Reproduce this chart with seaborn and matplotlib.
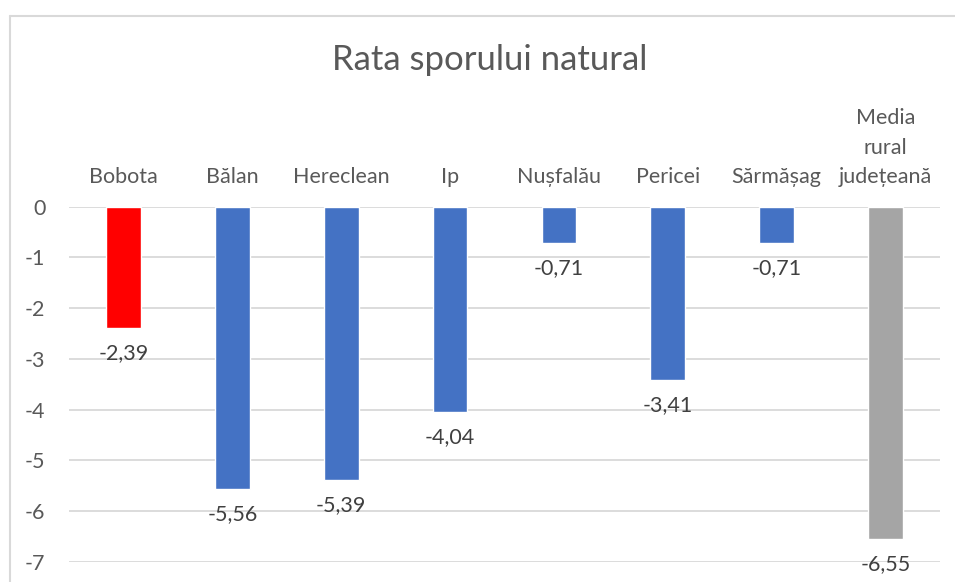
import matplotlib
matplotlib.use("Agg")
import matplotlib.pyplot as plt
import pandas as pd
import seaborn as sns

categories = ["Bobota", "Bălan", "Hereclean", "Ip", "Nușfalău", "Pericei", "Sărmășag",
              "Media\nrural\njudețeană"]
values = [-2.39, -5.56, -5.39, -4.04, -0.71, -3.41, -0.71, -6.55]
bar_colors = ["#FF0000", "#4472C4", "#4472C4", "#4472C4", "#4472C4", "#4472C4", "#4472C4",
              "#A5A5A5"]
yticks = [0, -1, -2, -3, -4, -5, -6, -7]

df = pd.DataFrame({"cat": categories, "val": values})

sns.set_style("white")
plt.rcParams["font.family"] = ["Lato", "DejaVu Sans"]

fig = plt.figure(figsize=(9.55, 5.82), dpi=100)
ax = fig.add_axes([69 / 955, 1 - 561.7 / 582, (940 - 69) / 955, (561.7 - 206.7) / 582])

sns.barplot(data=df, x="cat", y="val", hue="cat", palette=bar_colors, legend=False,
            width=0.32, saturation=1, ax=ax, zorder=3)

ax.set_ylim(-7, 0)
ax.set_xlim(-0.5, len(categories) - 0.5)
ax.set_yticks(yticks)
ax.set_yticklabels([str(t) for t in yticks])
ax.grid(axis="y", color="#D9D9D9", linewidth=1.3, zorder=0)
ax.set_axisbelow(True)
for s in ax.spines.values():
    s.set_visible(False)

ax.xaxis.tick_top()
ax.tick_params(axis="x", length=0, pad=14, labelsize=15.5, labelcolor="#595959")
ax.tick_params(axis="y", length=0, pad=17, labelsize=15.5, labelcolor="#595959")
for lbl in ax.get_xticklabels():
    lbl.set_linespacing(1.6)
ax.set_xlabel("")
ax.set_ylabel("")

for i, v in enumerate(values):
    ax.annotate(f"{v:.2f}".replace(".", ","), (i, v), xytext=(0, -11), textcoords="offset points",
                ha="center", va="top", fontsize=15.5, color="#404040", annotation_clip=False)

fig.text(490 / 955, 1 - 60 / 582, "Rata sporului natural", ha="center", va="center",
         fontsize=25, color="#595959")

# chart frame (left and top edges visible)
fig.add_artist(plt.Line2D([9.5 / 955, 9.5 / 955], [0, 1 - 15.5 / 582], color="#D9D9D9",
                          linewidth=1.5, transform=fig.transFigure))
fig.add_artist(plt.Line2D([9.5 / 955, 1], [1 - 15.5 / 582, 1 - 15.5 / 582], color="#D9D9D9",
                          linewidth=1.5, transform=fig.transFigure))

fig.savefig("out.png", dpi=100)
